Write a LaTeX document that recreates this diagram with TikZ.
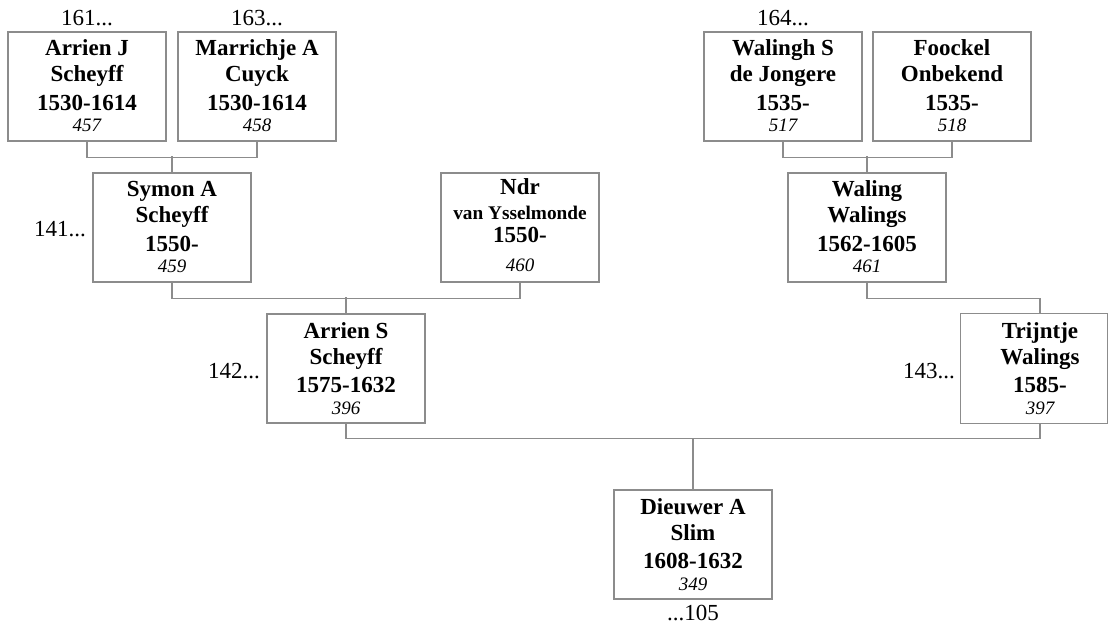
\documentclass[tikz,border=0pt]{standalone}
\usepackage{fontspec}
\setmainfont{Liberation Serif}
\definecolor{linegray}{RGB}{140,140,140}
\newcommand\famcard[4]{\parbox[t][109pt][t]{158pt}{\setlength\parskip{0pt}\centering
\fontsize{23}{26}\selectfont\bfseries\rule{0pt}{24pt}#1\par
#2\par
\fontsize{23}{28.5}\selectfont #3\par
\fontsize{19}{21.5}\selectfont\mdseries\itshape #4\par}}
\newcommand\ndrcard{\parbox[t][109pt][t]{158pt}{\setlength\parskip{0pt}\centering
\fontsize{23}{26}\selectfont\bfseries\rule{0pt}{22pt}Ndr\par
\fontsize{19.3}{25}\selectfont van Ysselmonde\par
\fontsize{23}{23}\selectfont 1550-\par
\fontsize{19}{29}\selectfont\mdseries\itshape 460\par}}
\tikzset{
  card/.style={draw=linegray, line width=1.3pt, inner sep=0pt, fill=white},
  plaincard/.style={inner sep=0pt},
  conn/.style={draw=linegray, line width=1.3pt},
  ref/.style={font=\fontsize{23}{26}\selectfont, inner sep=0pt}
}
\begin{document}
\begin{tikzpicture}[x=1pt, y=-1pt]
\useasboundingbox (0,0) rectangle (1108,628);
% generation 1
\node[card] (a1) at (87,86.5) {\famcard{Arrien J}{Scheyff}{1530-1614}{457}};
\node[card] (a2) at (257,86.5) {\famcard{Marrichje A}{Cuyck}{1530-1614}{458}};
\node[card] (a3) at (783,86.5) {\famcard{Walingh S}{de Jongere}{1535-}{517}};
\node[card] (a4) at (952,86.5) {\famcard{Foockel}{Onbekend}{1535-}{518}};
% generation 2
\node[card] (b1) at (172,227.5) {\famcard{Symon A}{Scheyff}{1550-}{459}};
\node[card] (b2) at (520,227.5) {\ndrcard};
\node[card] (b3) at (867,227.5) {\famcard{Waling}{Walings}{1562-1605}{461}};
% generation 3
\node[card] (c1) at (346,368.5) {\famcard{Arrien S}{Scheyff}{1575-1632}{396}};
\node[plaincard] (c2) at (1040,368.5) {\famcard{Trijntje}{Walings}{1585-}{397}};
\draw[conn] (c2.north west) rectangle ([xshift=-12pt]c2.south east);
% generation 4
\node[card] (d) at (693,544.5) {\famcard{Dieuwer A}{Slim}{1608-1632}{349}};
% connectors
\draw[conn] (a1.south) -- ++(0,16) -| (a2.south);
\draw[conn] (b1.north) -- ++(0,-16);
\draw[conn] (a3.south) -- ++(0,16) -| (a4.south);
\draw[conn] (b3.north) -- ++(0,-16);
\draw[conn] (b1.south) -- ++(0,16) -| (b2.south);
\draw[conn] (c1.north) -- ++(0,-16);
\draw[conn] (b3.south) -- ++(0,16) -| (c2.north);
\draw[conn] (c1.south) -- ++(0,15) -| (c2.south);
\draw[conn] (d.north) -- ++(0,-51);
% outside labels
\node[ref, anchor=base] (r161) at (87,26) {161...};
\node[ref, anchor=base] (r163) at (257,26) {163...};
\node[ref, anchor=base] (r164) at (783,26) {164...};
\node[ref, anchor=base east] (r141) at (86,237) {141...};
\node[ref, anchor=base east] (r142) at (260,378) {142...};
\node[ref, anchor=base east] (r143) at (955,378) {143...};
\node[ref, anchor=base] (r105) at (693,620) {...105};
\end{tikzpicture}
\end{document}
